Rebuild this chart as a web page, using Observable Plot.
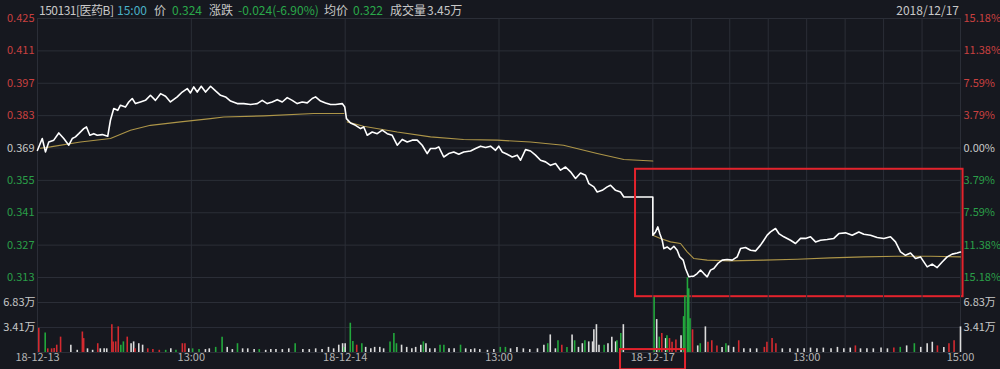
<!DOCTYPE html>
<html>
<head>
<meta charset="utf-8">
<script src="https://cdn.jsdelivr.net/npm/d3@7"></script>
<script src="https://cdn.jsdelivr.net/npm/@observablehq/plot@0.6"></script>
<style>
html,body{margin:0;padding:0;background:#16181f;}
#wrap{position:relative;width:1000px;height:369px;overflow:hidden;background:#16181f;font-family:"Noto Sans CJK SC","Noto Sans",sans-serif;}
#wrap svg{position:absolute;left:0;top:0;}
.h{position:absolute;top:1px;font-size:12px;line-height:18px;color:#c8c8c8;white-space:nowrap;}
.g{color:#2aa84a;}
.c{color:#4ab0c8;}
.n{letter-spacing:-0.5px;}
</style>
</head>
<body>
<div id="wrap">
  <span class="h n" style="left:39px">150131[医药B]</span>
  <span class="h c" style="left:117px">15:00</span>
  <span class="h" style="left:154px">价</span>
  <span class="h g" style="left:172px">0.324</span>
  <span class="h" style="left:209px">涨跌</span>
  <span class="h g" style="left:238px">-0.024(-6.90%)</span>
  <span class="h" style="left:324px">均价</span>
  <span class="h g" style="left:353px">0.322</span>
  <span class="h" style="left:390px">成交量</span>
  <span class="h" style="left:427px">3.45万</span>
  <span class="h" style="right:41px">2018/12/17</span>
</div>
<script>
// ---- data (minute index: 0..720 across 3 trading days of 240 minutes) ----
const prevClose = 0.369;
const priceTicks = [0.425, 0.411, 0.397, 0.383, 0.369, 0.355, 0.341, 0.327, 0.313];
const priceTickLabels = ["0.425","0.411","0.397","0.383","0.369","0.355","0.341","0.327","0.313"];
const pctTickLabels = ["15.18%","11.38%","7.59%","3.79%","0.00%","3.79%","7.59%","11.38%","15.18%"];
const volTicks = [3.41, 6.83];
const volTickLabels = ["3.41万", "6.83万"];
const xTickMinutes = [0, 120, 240, 360, 480, 600, 720];
const xTickLabels = ["18-12-13", "13:00", "18-12-14", "13:00", "18-12-17", "13:00", "15:00"];
const gridMinutes = [0, 120, 240, 360, 480, 510, 540, 570, 600, 630, 660, 690, 720];

const priceMinute = [
0,3.7,6.2,8.8,12.7,16.6,20.5,24.4,27.1,29.6,32.2,36.1,38.2,40.8,43.9,46.6,50.5,54.8,56.9,59.5,62.6,64.7,68.6,71.2,73.9,76.4,80.3,84.2,88.1,92.0,96.0,99.9,103.7,109.0,112.9,116.8,119.3,121.9,124.6,127.7,131.1,135.0,138.9,142.8,146.7,150.6,155.8,160.9,166.2,171.4,175.3,179.2,183.1,187.0,190.9,194.8,198.7,202.6,206.5,210.4,214.3,216.9,220.8,224.7,228.6,232.5,237.7,239.7,
241.0,244.2,248.1,252.0,254.5,257.2,261.1,265.0,268.9,272.8,276.7,280.6,284.5,288.4,292.3,296.2,300.1,304.0,306.6,310.5,313.0,316.9,320.8,324.7,328.6,332.5,337.8,341.7,345.6,349.5,353.4,357.3,359.8,362.5,366.4,370.3,374.2,376.8,380.7,384.6,388.5,392.4,396.3,400.2,404.1,408.0,411.9,415.8,419.7,423.6,427.5,430.1,434.0,436.6,440.5,444.4,447.0,450.9,454.8,457.4,480,
480,482.1,483.9,485.4,487.3,488.6,491.2,493.8,496.4,499.0,501.0,503.7,505.5,508.1,511.9,514.6,517.2,519.8,522.4,525.0,527.6,530.7,534.1,538.0,541.9,545.8,548.4,552.3,556.2,560.1,564.0,566.6,569.2,571.8,575.7,578.3,582.2,587.4,591.3,595.2,599.1,603.0,606.9,610.8,616.0,621.2,625.1,630.3,635.5,640.7,644.6,649.8,655.0,660.2,665.4,669.3,673.2,677.1,681.0,684.9,688.8,694.0,697.9,701.8,705.7,709.6,713.5,717.4,720];
const priceValue = [
0.3680,0.3731,0.3673,0.3716,0.3724,0.3755,0.3731,0.3702,0.3731,0.3738,0.3752,0.3774,0.3781,0.3745,0.3752,0.3745,0.3748,0.3741,0.3810,0.3861,0.3853,0.3875,0.3867,0.3889,0.3904,0.3882,0.3889,0.3896,0.3918,0.3896,0.3925,0.3914,0.3889,0.3911,0.3932,0.3947,0.3928,0.3954,0.3932,0.3957,0.3932,0.3957,0.3937,0.3918,0.3911,0.3893,0.3882,0.3882,0.3878,0.3882,0.3896,0.3882,0.3889,0.3899,0.3889,0.3908,0.3896,0.3882,0.3889,0.3885,0.3904,0.3911,0.3893,0.3885,0.3878,0.3878,0.3882,0.3867,
0.3817,0.3798,0.3788,0.3774,0.3781,0.3745,0.3759,0.3752,0.3767,0.3752,0.3745,0.3702,0.3727,0.3716,0.3724,0.3724,0.3702,0.3666,0.3688,0.3688,0.3695,0.3651,0.3666,0.3673,0.3663,0.3673,0.3677,0.3688,0.3698,0.3692,0.3698,0.3680,0.3698,0.3673,0.3663,0.3651,0.3659,0.3637,0.3683,0.3677,0.3659,0.3637,0.3630,0.3615,0.3623,0.3594,0.3608,0.3587,0.3558,0.3582,0.3572,0.3536,0.3522,0.3500,0.3507,0.3522,0.3529,0.3507,0.3500,0.3478,0.3478,
0.3313,0.3327,0.3349,0.3320,0.3291,0.3255,0.3262,0.3251,0.3265,0.3248,0.3219,0.3205,0.3169,0.3133,0.3136,0.3147,0.3162,0.3147,0.3133,0.3162,0.3169,0.3191,0.3205,0.3208,0.3205,0.3219,0.3255,0.3260,0.3248,0.3245,0.3270,0.3291,0.3313,0.3327,0.3342,0.3320,0.3306,0.3291,0.3277,0.3299,0.3299,0.3306,0.3284,0.3291,0.3294,0.3299,0.3320,0.3323,0.3313,0.3327,0.3317,0.3313,0.3303,0.3299,0.3306,0.3284,0.3241,0.3226,0.3236,0.3212,0.3219,0.3176,0.3188,0.3173,0.3197,0.3219,0.3231,0.3236,0.3240];

const avgMinute = [2.3,10.1,33.5,56.9,72.5,88.1,111.5,135.0,145.3,176.5,215.5,239,
241.6,254.3,280.6,306.6,332.3,358.6,384.6,410.3,436.6,457.4,480,
480,485.9,493.8,501.6,506.8,512.0,522.4,540.6,566.6,592.6,618.6,644.6,670.6,696.6,720];
const avgValue = [0.3689,0.3695,0.3716,0.3731,0.3767,0.3788,0.3803,0.3817,0.3824,0.3829,0.3839,0.3839,
0.3803,0.3784,0.3759,0.3738,0.3727,0.3724,0.3716,0.3702,0.3666,0.3640,0.3634,
0.3313,0.3299,0.3284,0.3277,0.3241,0.3212,0.3205,0.3202,0.3205,0.3209,0.3215,0.3219,0.3222,0.3222,0.3219];
const avgDay = [1,1,1,1,1,1,1,1,1,1,1,1, 2,2,2,2,2,2,2,2,2,2,2, 3,3,3,3,3,3,3,3,3,3,3,3,3,3,3];

// volume in 万 shares; dir: u = up (red), d = down (green), f = flat (white)
const volMinute = [1,6,8,11,13,15,18,26,31,35,36,39,43,47,49,52,54,58,59,61,63,65,67,70,73,75,76,79,82,86,90,95,100,104,108,113,115,118,121,126,131,134,139,144,148,152,156,160,164,169,173,178,182,186,191,196,201,207,212,217,222,227,231,235,238,239,
240,244,246,249,253,256,260,263,267,270,275,278,280,284,288,292,295,299,301,303,306,310,314,317,321,325,330,334,338,341,345,351,356,361,365,369,374,379,384,390,395,398,400,404,406,409,413,417,419,422,425,427,430,433,434,436,438,442,445,448,451,452,455,457,
481,483,485,487,490,491,493,495,498,502,504,505,507,508,509,511,515,517,521,523,526,530,534,537,539,543,547,551,556,561,567,569,573,576,581,587,593,598,603,608,613,619,624,629,634,638,642,647,652,658,663,668,673,678,684,689,694,698,702,707,711,715,720];
const volWan = [3.3,2.65,0.5,0.5,0.56,1.0,2.1,1.0,0.3,2.8,1.9,0.5,0.3,1.2,0.5,0.5,0.5,3.8,1.45,1.45,3.5,1.0,1.45,2.1,1.2,1.45,0.5,1.2,1.0,0.5,0.4,0.3,0.3,0.5,0.3,1.2,1.2,0.5,0.5,0.4,0.4,0.5,0.7,2.1,0.7,0.4,1.2,0.5,0.5,0.4,0.4,0.3,0.4,0.4,0.4,0.5,1.2,0.4,0.4,0.5,0.4,0.7,0.5,1.0,1.2,0.7,
1.2,4.0,1.5,1.0,1.2,0.7,0.5,0.7,0.7,0.5,1.45,2.6,1.2,1.0,0.7,0.5,0.7,1.0,1.45,1.2,0.5,0.5,1.0,1.0,0.5,0.5,1.0,0.5,0.4,0.5,0.4,0.3,0.4,0.7,0.7,0.5,0.7,0.5,0.4,0.5,1.0,1.2,2.4,0.5,1.6,1.0,0.7,2.4,1.6,0.7,1.2,1.6,1.45,1.45,3.1,3.8,1.0,1.0,1.2,2.1,1.45,1.6,2.6,3.8,
7.5,4.5,2.1,2.6,1.9,2.3,1.9,1.4,1.7,2.3,4.9,7.7,10.2,8.7,4.6,3.1,0.9,1.2,3.5,1.4,1.6,0.9,0.7,1.2,0.9,0.7,1.6,0.5,0.5,0.5,0.7,1.4,1.9,1.2,0.5,0.5,0.5,0.5,0.6,0.5,0.6,0.5,0.7,0.5,0.6,0.9,0.5,0.5,0.5,0.6,0.5,0.6,0.7,0.9,1.2,0.7,1.2,1.4,0.9,0.7,1.2,1.6,3.5];
const volDir = ["u","d","u","u","u","u","u","f","f","u","u","f","f","u","f","f","f","u","u","u","u","d","d","u","f","f","u","f","f","u","u","u","d","f","d","u","u","f","d","d","f","f","d","d","f","f","d","f","f","f","d","f","f","f","f","f","d","f","f","f","f","f","f","f","f","d",
"f","d","d","u","d","f","f","f","f","f","d","d","d","f","f","f","f","f","d","f","f","f","d","d","f","f","d","f","f","f","f","f","f","d","d","f","f","f","f","f","f","d","f","f","d","u","d","f","d","f","f","d","f","f","f","f","f","d","f","f","f","d","d","f",
"d","f","d","u","f","d","u","u","u","f","d","d","d","d","d","u","f","d","f","u","u","u","f","d","f","f","u","f","f","f","u","u","u","u","f","f","f","f","f","f","f","f","f","f","f","u","f","f","f","f","f","u","d","f","d","f","f","f","u","f","u","u","f"];

// annotation boxes (data units)
const highlightBox = [{t1: 466.5, t2: 722, p1: 0.3047, p2: 0.3598}];
const labelBox = [{t1: 454.8, t2: 505.5, v1: -2.35, v2: 0.4}];

// ---- build ----
const priceData = priceMinute.map((t, i) => ({t, p: priceValue[i]}));
const avgData = avgMinute.map((t, i) => ({t, p: avgValue[i], day: avgDay[i]}));
const volData = volMinute.map((t, i) => ({t, v: volWan[i], dir: volDir[i]}));
const priceTickData = priceTicks.map((p, i) => ({p, label: priceTickLabels[i], pct: pctTickLabels[i]}));
const volTickData = volTicks.map((v, i) => ({v, label: volTickLabels[i]}));
const xTickData = xTickMinutes.map((t, i) => ({t, label: xTickLabels[i]}));

const RED = "#c9403f", GREEN = "#2a9f48", GREY = "#c8c8c8", GRID = "#2b2e37";
const tickColor = p => p > prevClose + 1e-9 ? RED : (p < prevClose - 1e-9 ? GREEN : GREY);
const dirColor = {u: "#d42a30", d: "#22a83c", f: "#dcdcdc"};
const font = '"Noto Sans CJK SC","Noto Sans",sans-serif';

const common = {
  width: 1000, height: 369, marginLeft: 37, marginRight: 40,
  style: {background: "transparent", fontFamily: font, overflow: "visible"},
  x: {domain: [0, 720], axis: null}
};

const priceChart = Plot.plot({
  ...common,
  marginTop: 18, marginBottom: 92,
  y: {domain: [0.313, 0.425], axis: null},
  marks: [
    Plot.ruleY(priceTicks, {stroke: GRID, strokeWidth: 1}),
    Plot.ruleX(gridMinutes, {stroke: GRID, strokeWidth: 1}),
    Plot.text(priceTickData, {y: "p", text: "label", frameAnchor: "left", textAnchor: "end", dx: -3, fill: d => tickColor(d.p), fontSize: 11}),
    Plot.text(priceTickData, {y: "p", text: "pct", frameAnchor: "right", textAnchor: "start", dx: 3, fill: d => tickColor(d.p), fontSize: 11}),
    Plot.line(avgData, {x: "t", y: "p", z: "day", stroke: "#ad9548", strokeWidth: 1.1}),
    Plot.line(priceData, {x: "t", y: "p", stroke: "#ffffff", strokeWidth: 1.6}),
    Plot.rect(highlightBox, {x1: "t1", x2: "t2", y1: "p1", y2: "p2", fill: "none", stroke: "#e3232c", strokeWidth: 2})
  ]
});

const volChart = Plot.plot({
  ...common,
  marginTop: 277, marginBottom: 17,
  y: {domain: [0, 10.245], axis: null},
  color: {type: "identity"},
  marks: [
    Plot.ruleY([0, ...volTicks], {stroke: GRID, strokeWidth: 1}),
    Plot.ruleX(gridMinutes, {stroke: GRID, strokeWidth: 1}),
    Plot.ruleX(volData, {x: "t", y1: 0, y2: "v", stroke: d => dirColor[d.dir], strokeWidth: 1.6}),
    Plot.text(volTickData, {y: "v", text: "label", frameAnchor: "left", textAnchor: "end", dx: -2, fill: GREY, fontSize: 11}),
    Plot.text(volTickData, {y: "v", text: "label", frameAnchor: "right", textAnchor: "start", dx: 3, fill: GREY, fontSize: 11}),
    Plot.text(xTickData, {x: "t", text: "label", frameAnchor: "bottom", dy: 8, fill: "#b4b4b4", fontSize: 11}),
    Plot.rect(labelBox, {x1: "t1", x2: "t2", y1: "v1", y2: "v2", fill: "none", stroke: "#e3232c", strokeWidth: 2})
  ]
});

const wrap = document.getElementById("wrap");
wrap.appendChild(priceChart);
wrap.appendChild(volChart);
</script>
</body>
</html>
